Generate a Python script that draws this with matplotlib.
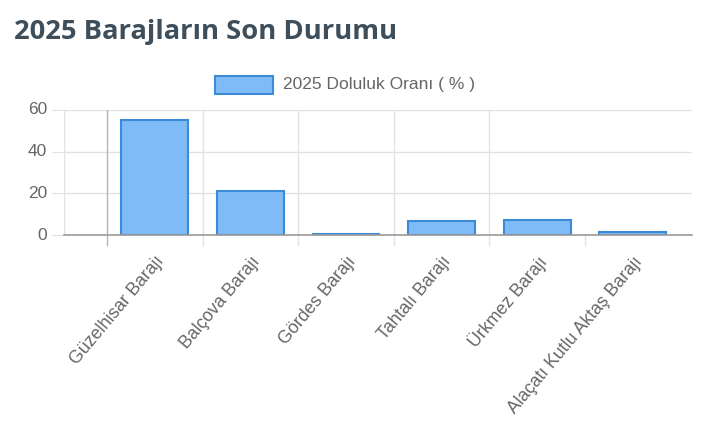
import numpy as np
import matplotlib
matplotlib.use("Agg")
import matplotlib.pyplot as plt
from matplotlib.patches import Rectangle

# --- data ---
barajlar = ["Güzelhisar Barajı", "Balçova Barajı", "Gördes Barajı",
            "Tahtalı Barajı", "Ürkmez Barajı", "Alaçatı Kutlu Aktaş Barajı"]
doluluk = [55.2, 21.0, 0.3, 6.7, 7.4, 1.4]
y_ticks = [0, 20, 40, 60]

title = "2025 Barajların Son Durumu"
legend_label = "2025 Doluluk Oranı ( % )"

fill_color = "#7fbbf6"
edge_color = "#3b8bd6"
grid_color = "#e2e2e2"
text_color = "#666666"

fig = plt.figure(figsize=(7.2, 4.3), dpi=100)
ax = fig.add_axes([64 / 720, 1 - 235 / 430, (692 - 64) / 720, 125 / 430])

x = np.arange(len(barajlar))
ax.bar(x, doluluk, width=0.7, color=fill_color, edgecolor=edge_color,
       linewidth=1.5, zorder=3)

ax.set_xlim(-0.95, 5.62)
ax.set_ylim(0, 60)

# grid: horizontal lines + vertical lines between categories
for v in y_ticks[1:]:
    ax.axhline(v, color=grid_color, lw=1, zorder=1)
ax.axhline(0, color="#999999", lw=1.2, zorder=4, clip_on=False)
for i, xv in enumerate(x[:-1] - 0.5):
    c = "#b5b5b5" if i == 0 else grid_color
    ax.axvline(xv, color=c, lw=1, zorder=1)
    ax.plot([xv, xv], [0, -5], color=c, lw=1, clip_on=False, zorder=1)
ax.axvline(-0.95, color=grid_color, lw=1, zorder=1)
ax.plot([x[-1] - 0.5, x[-1] - 0.5], [0, -5], color=grid_color, lw=1,
        clip_on=False, zorder=1)

for s in ax.spines.values():
    s.set_visible(False)

ax.set_yticks(y_ticks)
ax.set_yticklabels([str(t) for t in y_ticks], fontsize=12.5,
                   color=text_color, family="Liberation Sans")
ax.tick_params(axis="y", length=9, color=grid_color, pad=3)
for tl in ax.get_yticklabels():
    tl.set_verticalalignment("center")

ax.set_xticks(x)
ax.set_xticklabels(barajlar, rotation=50, ha="right", rotation_mode="anchor",
                   fontsize=12.8, color=text_color, family="Liberation Sans")
ax.tick_params(axis="x", length=0, pad=13)

# title
fig.text(14 / 720, 1 - 32 / 430, title, fontsize=19.7, fontweight="bold",
         color="#3e4f5b", family="Open Sans", va="center", ha="left")

# legend
fig.patches.append(Rectangle((215 / 720, 1 - 94 / 430), 58 / 720, 18 / 430,
                             transform=fig.transFigure, facecolor=fill_color,
                             edgecolor=edge_color, lw=1.5))
fig.text(283 / 720, 1 - 84 / 430, legend_label, fontsize=12.5,
         color=text_color, family="Liberation Sans", va="center", ha="left")

fig.savefig("out.png", dpi=100, facecolor="white")
